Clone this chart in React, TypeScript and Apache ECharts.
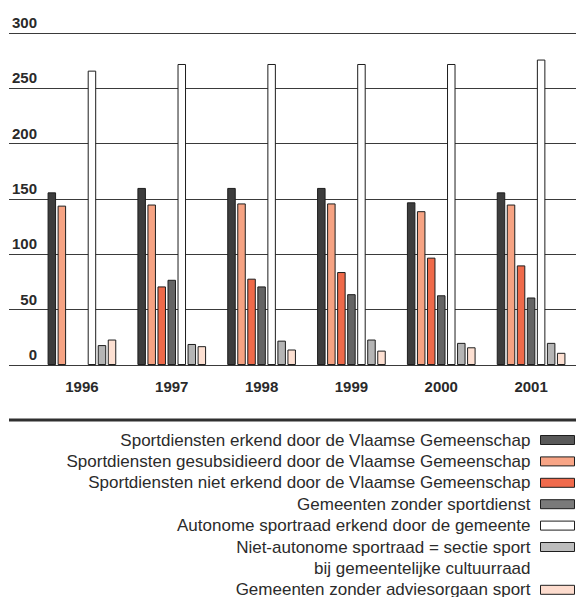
import React, { useEffect, useRef } from "react";
import * as echarts from "echarts";

const categories = ["1996", "1997", "1998", "1999", "2000", "2001"];
const yTicks = [0, 50, 100, 150, 200, 250, 300];

const seriesNames = [
  "Sportdiensten erkend door de Vlaamse Gemeenschap",
  "Sportdiensten gesubsidieerd door de Vlaamse Gemeenschap",
  "Sportdiensten niet erkend door de Vlaamse Gemeenschap",
  "Gemeenten zonder sportdienst",
  "Autonome sportraad erkend door de gemeente",
  "Niet-autonome sportraad = sectie sport",
  "Gemeenten zonder adviesorgaan sport",
];
const legendContinuation = "bij gemeentelijke cultuurraad";

const erkend = [156, 160, 160, 160, 147, 156];
const gesubsidieerd = [144, 145, 146, 146, 139, 145];
const nietErkend = [null, 71, 78, 84, 97, 90];
const zonderSportdienst = [null, 77, 71, 64, 63, 61];
const autonoom = [266, 272, 272, 272, 272, 276];
const nietAutonoom = [18, 19, 22, 23, 20, 20];
const zonderAdviesorgaan = [23, 17, 14, 13, 16, 11];

const seriesValues = [
  erkend,
  gesubsidieerd,
  nietErkend,
  zonderSportdienst,
  autonoom,
  nietAutonoom,
  zonderAdviesorgaan,
];
const seriesColors = ["#3d3d3d", "#f6a383", "#ef6a4a", "#646464", "#ffffff", "#b5b5b5", "#fde0d2"];
const legendColors = ["#595959", "#f8a586", "#f06a4c", "#7a7a7a", "#ffffff", "#bdbdbd", "#fddcce"];

const labelFont = "'Liberation Sans Narrow', 'Liberation Sans', Arial, sans-serif";
const legendFont = "'Liberation Sans', Arial, sans-serif";

export default function App() {
  const ref = useRef<HTMLDivElement>(null);
  useEffect(() => {
    if (!ref.current) return;
    const chart = echarts.init(ref.current, null, { renderer: "svg" });
    const yMin = yTicks[0];
    const yMax = yTicks[yTicks.length - 1];
    const yInterval = yTicks[1] - yTicks[0];

    const barSeries = seriesNames.map((name, i) => ({
      name,
      type: "bar",
      xAxisIndex: 1,
      yAxisIndex: 1,
      data: seriesValues[i],
      barWidth: 8.5,
      barGap: "18%",
      itemStyle: {
        color: seriesColors[i],
        borderColor: "#1e1e1e",
        borderWidth: 1,
      },
    }));

    const legendData: any[] = [];
    seriesNames.forEach((name, i) => {
      legendData.push({
        name,
        icon: "rect",
        itemStyle: { color: legendColors[i], borderColor: "#1e1e1e", borderWidth: 1 },
      });
      if (i === 5) legendData.push({ name: legendContinuation, icon: "none" });
    });

    chart.setOption({
      animation: false,
      backgroundColor: "#ffffff",
      grid: [
        { left: 9, right: 0, top: 33, bottom: 232 },
        { left: 37, right: 0, top: 33, bottom: 232 },
      ],
      xAxis: [
        { type: "value", gridIndex: 0, min: 0, max: 1, show: false },
        {
          type: "category",
          gridIndex: 1,
          data: categories,
          axisLine: { show: false },
          axisTick: { show: false },
          axisLabel: {
            margin: 14,
            fontFamily: labelFont,
            fontWeight: "bold",
            fontSize: 15,
            color: "#2a2a2a",
          },
        },
      ],
      yAxis: [
        {
          type: "value",
          gridIndex: 0,
          min: yMin,
          max: yMax,
          interval: yInterval,
          axisLine: { show: false },
          axisTick: { show: false },
          axisLabel: { show: false },
          splitLine: { show: true, lineStyle: { color: "#3a3a3a", width: 1 } },
        },
        {
          type: "value",
          gridIndex: 1,
          min: yMin,
          max: yMax,
          interval: yInterval,
          axisLine: { show: false },
          axisTick: { show: false },
          splitLine: { show: false },
          axisLabel: {
            margin: 0,
            verticalAlign: "bottom",
            padding: [0, 0, 3, 0],
            fontFamily: labelFont,
            fontWeight: "bold",
            fontSize: 15,
            color: "#2a2a2a",
          },
        },
      ],
      legend: {
        orient: "vertical",
        align: "right",
        right: 1,
        top: 431.5,
        height: 220,
        padding: 0,
        itemWidth: 34,
        itemHeight: 9,
        itemGap: 4.4,
        selectedMode: false,
        data: legendData,
        textStyle: {
          fontFamily: legendFont,
          fontSize: 17,
          lineHeight: 16,
          color: "#2b2b2b",
          padding: [0, 5, 0, 0],
        },
      },
      graphic: [
        {
          type: "rect",
          shape: { x: 9, y: 418.5, width: 567, height: 3 },
          style: { fill: "#2f2f2f" },
          silent: true,
        },
      ],
      series: [
        ...barSeries,
        {
          name: legendContinuation,
          type: "scatter",
          xAxisIndex: 1,
          yAxisIndex: 1,
          data: [],
        },
      ],
    });
    return () => chart.dispose();
  }, []);
  return (
    <div
      ref={ref}
      style={{ position: "fixed", left: 0, top: 0, width: 576, height: 597 }}
    />
  );
}
